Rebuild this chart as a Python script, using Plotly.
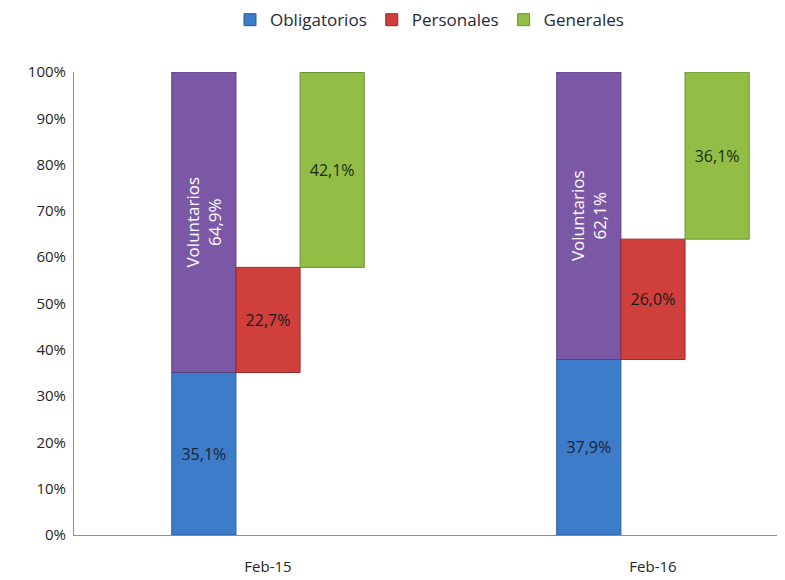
import plotly.graph_objects as go

categories = ["Feb-15", "Feb-16"]
obligatorios = [35.1, 37.9]
voluntarios = [64.9, 62.1]
personales = [22.7, 26.0]
generales = [42.1, 36.1]
y_ticks = [0, 10, 20, 30, 40, 50, 60, 70, 80, 90, 100]
y_tick_labels = [f"{t}%" for t in y_ticks]


def fmt(v):
    return f"{v:.1f}".replace(".", ",") + "%"


FONT = "'Open Sans', Lato, sans-serif"
fig = go.Figure()

fig.add_trace(go.Bar(
    x=categories, y=obligatorios, base=[0, 0], name="Obligatorios",
    offsetgroup="a", marker=dict(color="#3d7cc9", line=dict(color="#2c5c96", width=1)),
    text=[fmt(v) for v in obligatorios], textposition="inside", insidetextanchor="middle",
    textfont=dict(color="#1b2430", size=16, family=FONT), textangle=0,
))
fig.add_trace(go.Bar(
    x=categories, y=voluntarios, base=obligatorios, name="Voluntarios", showlegend=False,
    offsetgroup="a", marker=dict(color="#7b58a5", line=dict(color="#5a3f7e", width=1)),
    text=[f"Voluntarios<br>{fmt(v)}" for v in voluntarios], textposition="inside",
    insidetextanchor="middle", textangle=-90,
    textfont=dict(color="white", size=17, family=FONT),
))
fig.add_trace(go.Bar(
    x=categories, y=personales, base=obligatorios, name="Personales",
    offsetgroup="b", marker=dict(color="#cf3f3b", line=dict(color="#9a2b28", width=1)),
    text=[fmt(v) for v in personales], textposition="inside", insidetextanchor="middle",
    textfont=dict(color="#1a1a1a", size=16, family=FONT), textangle=0,
))
fig.add_trace(go.Bar(
    x=categories, y=generales, base=[o + p for o, p in zip(obligatorios, personales)],
    name="Generales",
    offsetgroup="c", marker=dict(color="#92be46", line=dict(color="#6c8f30", width=1)),
    text=[fmt(v) for v in generales], textposition="inside", insidetextanchor="middle",
    textfont=dict(color="#1a2a10", size=16, family=FONT), textangle=0,
))

fig.update_layout(
    width=777, height=572,
    margin=dict(l=66, r=0, t=64, b=45, autoexpand=False),
    paper_bgcolor="white", plot_bgcolor="white",
    barmode="group", bargap=0.5, bargroupgap=0,
    font=dict(family=FONT, size=15, color="#262626"),
    legend=dict(orientation="h", x=0.5, xanchor="center", y=1.112, yanchor="middle",
                font=dict(size=17, color="#1f2a3a", family=FONT),
                traceorder="normal", itemwidth=30),
    xaxis=dict(type="category", range=[-0.504, 1.343], showline=True,
               linecolor="#8c8c8c", linewidth=1, showgrid=False, ticks="",
               ticklabelstandoff=18,
               tickfont=dict(size=15, color="#262626")),
    yaxis=dict(range=[0, 100], tickmode="array", tickvals=y_ticks, ticktext=y_tick_labels,
               showline=True, linecolor="#8c8c8c", linewidth=1, showgrid=False,
               zeroline=False, ticks="", ticklabelstandoff=4,
               tickfont=dict(size=15, color="#262626")),
)

fig.write_html("out.html")
